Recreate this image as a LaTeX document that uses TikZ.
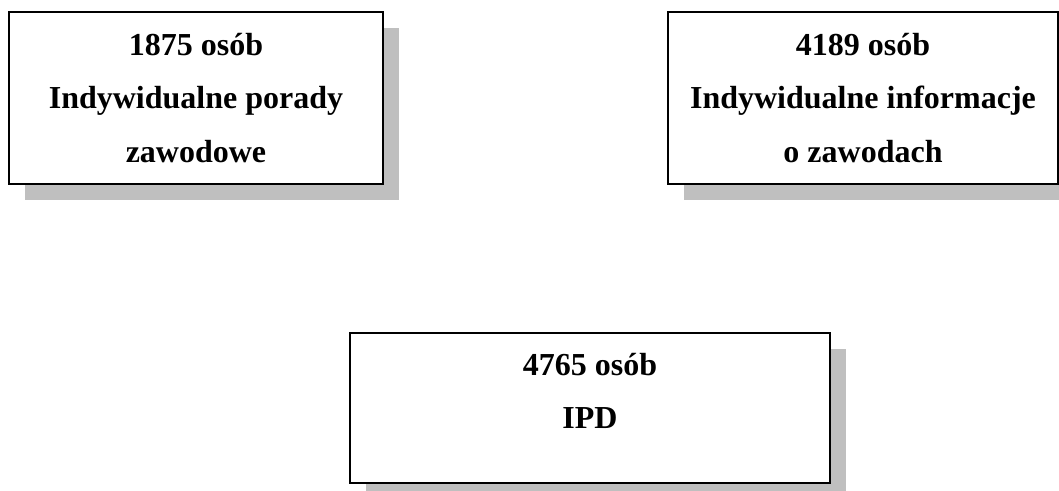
\documentclass[tikz,border=0pt]{standalone}
\usepackage{fontspec}
\setmainfont{Liberation Serif}
\usetikzlibrary{shadows, positioning}
\tikzset{
  box/.style={draw, line width=1.5pt, fill=white, align=center, font=\bfseries\fontsize{24}{40}\selectfont,
    drop shadow={shadow xshift=12pt, shadow yshift=-12pt, fill=gray!50, opacity=1}},
  boxtext/.style={align=center, inner sep=0pt, font=\bfseries\fontsize{24}{40}\selectfont}
}

\begin{document}
\begin{tikzpicture}[x=0.75pt, y=-0.75pt]
\useasboundingbox (0,0) rectangle (1059,491);
\node[box, minimum width=280.5pt, minimum height=129pt] (porady) at (196,98) {1875 osób\\Indywidualne porady\\zawodowe};
\node[box, minimum width=292.5pt, minimum height=129pt] (informacje) at (863,98) {4189 osób\\Indywidualne informacje\\o zawodach};
\node[box, minimum width=360pt, minimum height=112.5pt] (ipd) at (590,408) {};
\node[boxtext, below=15.5pt of ipd.north] (ipdtext) {4765 osób\\IPD};
\end{tikzpicture}
\end{document}
